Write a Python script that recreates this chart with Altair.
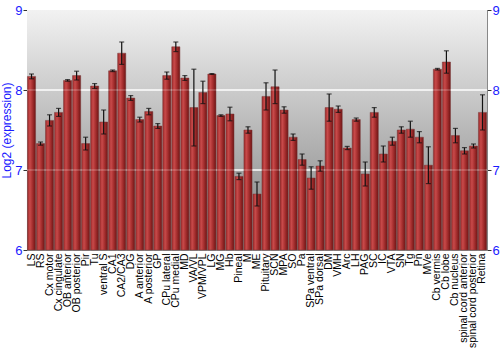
import altair as alt
import pandas as pd

regions = ["LS", "RS", "Cx motor", "Cx cingulate", "OB anterior", "OB posterior", "Pir", "Tu",
           "ventral S", "CA1", "CA2/CA3", "DG", "A anterior", "A posterior", "GP", "CPu lateral",
           "CPu medial", "MD", "VA/VL", "VPM/VPL", "LG", "MG", "Hb", "Pineal", "M", "ME",
           "Pituitary", "SCN", "MPA", "SO", "Pa", "SPa ventral", "SPa dorsal", "DM", "VMH",
           "Arc", "LH", "PAG", "SC", "IC", "VTA", "SN", "Tg", "Pn", "MVe", "Cb vermis",
           "Cb lobe", "Cb nucleus", "spinal cord anterior", "spinal cord posterior", "Retina"]
values = [8.17, 7.33, 7.62, 7.72, 8.12, 8.18, 7.33, 8.05,
          7.60, 8.24, 8.46, 7.90, 7.63, 7.73, 7.55, 8.18,
          8.54, 8.15, 7.78, 7.97, 8.20, 7.68, 7.70, 6.92, 7.50, 6.70,
          7.92, 8.04, 7.75, 7.41, 7.13, 6.90, 7.05, 7.78, 7.76,
          7.275, 7.63, 6.95, 7.72, 7.20, 7.36, 7.50, 7.51, 7.41, 7.06, 8.26,
          8.35, 7.43, 7.24, 7.30, 7.72]
errors = [0.03, 0.02, 0.07, 0.05, 0.01, 0.055, 0.08, 0.03,
          0.15, 0.01, 0.14, 0.03, 0.03, 0.04, 0.03, 0.045,
          0.06, 0.03, 0.48, 0.14, 0.005, 0.01, 0.085, 0.04, 0.04, 0.15,
          0.17, 0.21, 0.04, 0.04, 0.07, 0.14, 0.065, 0.17, 0.04,
          0.02, 0.02, 0.15, 0.06, 0.10, 0.05, 0.04, 0.10, 0.07, 0.23, 0.01,
          0.14, 0.09, 0.04, 0.025, 0.22]
y_ticks = [6, 7, 8, 9]
grid_levels = [7, 8]

df = pd.DataFrame({"region": regions, "value": values, "err": errors})
df["lo"] = df["value"] - df["err"]
df["hi"] = df["value"] + df["err"]

W, H = 460, 240
blue = "#1a1aff"

xenc = alt.X("region:N", sort=regions, title=None,
             scale=alt.Scale(paddingInner=0.1, paddingOuter=0.05),
             axis=alt.Axis(labelAngle=-90, labelColor="black", labelFontSize=10.5,
                           labelFont="Liberation Sans", ticks=False, domain=False,
                           labelPadding=3, labelAlign="right", labelBaseline="middle"))
yscale = alt.Scale(domain=[6, 9], nice=False, zero=False)

bg = alt.Chart(alt.Data(values=[{}])).mark_rect(
    fill=alt.Gradient(gradient="linear", x1=0, x2=0, y1=0, y2=1,
                      stops=[alt.GradientStop(offset=0, color="#f2f2f2"),
                             alt.GradientStop(offset=1, color="#7e7e7e")])
).encode(x=alt.value(0), x2=alt.value(W), y=alt.value(0), y2=alt.value(H))

grid_df = pd.DataFrame({"g": grid_levels})
grid_under = alt.Chart(grid_df).mark_rule(color="white", strokeWidth=1.5, opacity=0.9).encode(
    y=alt.Y("g:Q", scale=yscale, axis=None))

bars = alt.Chart(df).mark_bar(
    fill=alt.Gradient(gradient="linear", x1=0, x2=1, y1=0, y2=0,
                      stops=[alt.GradientStop(offset=0, color="#9a2828"),
                             alt.GradientStop(offset=0.3, color="#c84a4a"),
                             alt.GradientStop(offset=0.6, color="#a83030"),
                             alt.GradientStop(offset=1, color="#6e1414")]),
    stroke="#7a3a3a", strokeWidth=0.5
).encode(
    x=xenc,
    y=alt.Y("value:Q", scale=yscale, title="Log2 (expression)",
            axis=alt.Axis(values=y_ticks, orient="left", labelColor=blue, titleColor=blue,
                          labelFontSize=13, titleFontSize=12, titleFontWeight="normal",
                          labelFont="Liberation Sans", titleFont="Liberation Sans",
                          grid=False, domainColor="#888888", tickColor="#333333",
                          tickSize=4, labelPadding=1, titlePadding=1)),
    y2=alt.Y2(datum=6),
)

grid_over = alt.Chart(grid_df).mark_rule(color="white", strokeWidth=1.2, opacity=0.35).encode(
    y=alt.Y("g:Q", scale=yscale, axis=None))

err_rule = alt.Chart(df).mark_rule(color="#111111", strokeWidth=1.2).encode(
    x=xenc, y=alt.Y("lo:Q", scale=yscale, axis=None), y2="hi:Q")
cap_lo = alt.Chart(df).mark_tick(color="#111111", size=5, thickness=1.2, orient="horizontal").encode(
    x=xenc, y=alt.Y("lo:Q", scale=yscale, axis=None))
cap_hi = alt.Chart(df).mark_tick(color="#111111", size=5, thickness=1.2, orient="horizontal").encode(
    x=xenc, y=alt.Y("hi:Q", scale=yscale, axis=None))

right_axis = alt.Chart(pd.DataFrame({"g": y_ticks})).mark_point(opacity=0).encode(
    y=alt.Y("g:Q", scale=yscale, title=None,
            axis=alt.Axis(values=y_ticks, orient="right", labelColor=blue, labelFontSize=13,
                          labelFont="Liberation Sans", grid=False, domainColor="#888888",
                          tickColor="#333333", tickSize=4, labelPadding=1)))

chart = alt.layer(bg, grid_under, bars, grid_over, err_rule, cap_lo, cap_hi, right_axis).resolve_axis(
    y="independent"
).properties(
    width=W, height=H, autosize="none",
    padding={"left": 27, "top": 10, "right": 13, "bottom": 100}
).configure_view(stroke="#888888", strokeWidth=1)

chart.save("out.html", embed_options={"renderer": "svg", "actions": False})
